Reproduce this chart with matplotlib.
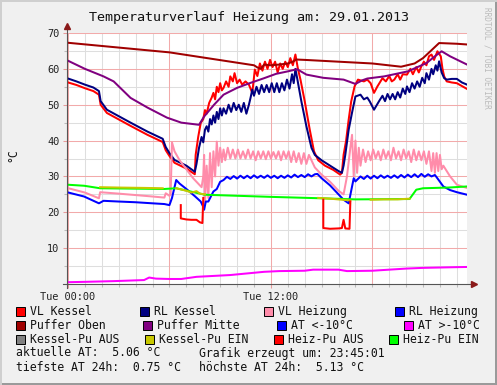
import numpy as np
import matplotlib
matplotlib.use('Agg')
import matplotlib.pyplot as plt
from matplotlib.patches import Rectangle

nan = np.nan

# time axis in hours after Tue 00:00, temperatures in °C

vl_kessel_t = [-0.06, 0.5, 1.0, 1.5, 1.83, 1.93, 2.3, 3.0, 3.7, 4.7, 5.6, 5.78, 6.0, 6.3, 7.0, 7.5,
               7.55, 7.7, 7.85, 8.0, 8.1, 8.2, 8.35, 8.5, 8.6, 8.7, 8.8, 8.9, 9.0, 9.1, 9.2, 9.35, 9.5,
               9.6, 9.75, 9.85, 10.0, 10.15, 10.3, 10.5, 10.7, 10.9, 11.05, 11.2, 11.35, 11.5, 11.65,
               11.8, 11.95, 12.1, 12.25, 12.4, 12.55, 12.7, 12.85, 13.0, 13.15, 13.3, 13.45, 13.6,
               13.75, 14.0, 14.3, 14.55, 14.8, 15.2, 15.7, 16.1, 16.2, 16.3, 16.45, 16.6, 16.75,
               16.95, 17.15, 17.5, 17.7, 17.9, 18.1, 18.3, 18.6, 18.8, 19.0, 19.15, 19.3, 19.5,
               19.65, 19.8, 20.05, 20.25, 20.4, 20.6, 20.75, 20.9, 21.05, 21.2, 21.35, 21.5, 21.65,
               21.85, 22.05, 22.15, 22.25, 22.4, 22.7, 23.0, 23.3, 23.6]
vl_kessel = [56.3, 55.5, 54.6, 53.8, 52.8, 50.0, 47.7, 45.9, 44.1, 41.6, 39.6, 37.3, 35.7, 33.8, 32.2, 30.6,
             36.0, 41.0, 44.9, 46.0, 48.5, 47.5, 50.5, 52.0, 53.3, 51.5, 55.0, 53.5, 56.0, 54.0, 54.7, 56.5, 55.0,
             57.9, 56.5, 58.8, 56.0, 57.0, 55.6, 56.5, 55.6, 53.3, 59.8, 58.0, 61.5, 59.5, 62.0,
             60.0, 62.5, 60.5, 62.0, 59.0, 61.5, 60.0, 62.0, 60.5, 63.0, 61.0, 64.0, 60.0,
             57.0, 51.0, 43.0, 37.0, 34.5, 33.0, 31.8, 30.5, 31.0, 36.0, 40.0, 45.8, 50.9,
             55.1, 57.0, 56.5, 57.0, 56.0, 53.3, 55.1, 57.4, 56.5, 58.0, 56.5, 57.0, 58.5,
             57.0, 58.5, 58.4, 60.0, 58.5, 60.5, 59.0, 60.7, 62.0, 61.0, 63.5, 64.0, 62.5,
             64.9, 63.5, 60.0, 57.9, 56.5, 56.2, 56.0, 55.2, 54.4]

rl_kessel_t = [-0.06, 0.5, 1.0, 1.5, 1.83, 1.93, 2.3, 3.0, 3.7, 4.7, 5.6, 5.78, 6.0, 6.3, 7.0, 7.5,
               7.6, 7.75, 7.9, 8.0, 8.1, 8.2, 8.3, 8.4, 8.5, 8.6, 8.7, 8.8, 8.9, 9.0, 9.1, 9.2, 9.35,
               9.5, 9.65, 9.8, 9.95, 10.1, 10.25, 10.4, 10.55, 10.7, 10.8, 10.9, 11.0, 11.15, 11.3,
               11.45, 11.6, 11.75, 11.9, 12.05, 12.2, 12.35, 12.5, 12.65, 12.8, 12.95, 13.1, 13.25,
               13.35, 13.45, 13.55, 13.8, 14.1, 14.4, 14.6, 15.0, 15.5, 16.0, 16.2, 16.3, 16.4, 16.6,
               16.8, 17.0, 17.3, 17.5, 17.7, 17.85, 18.1, 18.4, 18.6, 18.75, 18.9, 19.05, 19.2,
               19.35, 19.5, 19.65, 19.8, 19.95, 20.05, 20.2, 20.35, 20.5, 20.65, 20.8, 20.95, 21.1,
               21.2, 21.35, 21.5, 21.6, 21.75, 21.85, 21.95, 22.1, 22.25, 22.4, 22.7, 23.0, 23.3, 23.6]
rl_kessel = [57.4, 56.5, 55.6, 54.8, 53.8, 51.0, 48.6, 46.8, 45.0, 42.5, 40.5, 38.2, 36.5, 34.6, 33.0, 31.3,
             33.5, 38.0, 41.0, 39.5, 43.0, 44.0, 42.5, 46.0, 44.5, 47.0, 45.0, 48.0, 46.0, 49.0, 47.0, 49.0, 47.5,
             50.0, 48.0, 50.5, 48.5, 50.0, 48.0, 50.5, 47.5, 50.0, 52.0, 54.2, 52.5, 55.0, 53.0,
             55.5, 53.5, 55.5, 53.5, 56.0, 53.5, 56.0, 53.5, 56.0, 54.0, 57.0, 54.5, 58.5,
             56.0, 60.0, 57.5, 51.0, 44.0, 38.0, 36.0, 34.5, 33.0, 31.5, 31.0, 33.0, 36.0, 43.0,
             47.8, 52.3, 52.8, 51.5, 52.0, 50.9, 48.6, 51.0, 52.5, 51.0, 53.0, 51.5, 53.0,
             51.5, 53.5, 52.0, 54.5, 53.0, 55.1, 53.5, 56.0, 54.5, 56.5, 55.0, 57.5, 56.0,
             58.8, 57.0, 60.0, 58.5, 61.0, 59.5, 62.1, 59.0, 57.4, 57.0, 57.2, 57.2, 56.2, 55.6]

vl_heizung_t = [-0.06, 1.0, 1.83, 1.9, 3.0, 4.0, 5.0, 5.7, 5.78, 6.0, 6.07, 6.15, 6.3, 6.6, 7.0, 7.4,
                7.7, 7.9, 8.0, 8.05, 8.1, 8.2, 8.3, 8.4, 8.5, 8.6, 8.7, 8.8, 8.9, 9.0, 9.1, 9.2, 9.3,
                9.45, 9.6, 9.75, 9.9, 10.05, 10.2, 10.35, 10.5, 10.65, 10.8, 10.95, 11.1, 11.25, 11.4,
                11.55, 11.7, 11.85, 12.0, 12.15, 12.3, 12.45, 12.6, 12.75, 12.9, 13.05, 13.2, 13.35,
                13.5, 13.65, 13.8, 13.95, 14.1, 14.25, 14.35, 14.6, 15.0, 15.5, 16.0, 16.3, 16.5,
                16.7, 16.8, 16.9, 17.0, 17.1, 17.2, 17.3, 17.45, 17.6, 17.75, 17.9, 18.05, 18.2,
                18.35, 18.5, 18.65, 18.8, 18.95, 19.1, 19.25, 19.4, 19.55, 19.7, 19.85, 20.0, 20.15,
                20.3, 20.45, 20.6, 20.75, 20.9, 21.05, 21.2, 21.35, 21.5, 21.6, 21.7, 21.8, 21.9,
                22.0, 22.1, 22.2, 22.6, 23.0, 23.3, 23.6]
vl_heizung = [26.8, 25.5, 23.9, 25.6, 25.2, 24.8, 24.4, 24.1, 25.3, 24.6, 25.0, 39.5, 37.0, 34.5, 32.0, 29.5,
              28.0, 27.0, 30.0, 36.0, 22.0, 33.0, 24.0, 36.5, 27.0, 37.0, 30.0, 39.7, 33.0, 38.0, 34.0, 37.5, 34.5,
              38.0, 35.0, 37.5, 35.0, 37.5, 35.0, 37.0, 35.0, 37.5, 35.0, 37.0, 34.5, 37.0, 35.0,
              37.0, 34.8, 37.0, 35.0, 36.8, 35.0, 37.0, 34.5, 37.0, 35.0, 37.0, 34.0, 37.0,
              34.0, 36.5, 33.5, 36.5, 33.5, 36.0, 35.0, 32.5, 30.5, 28.5, 26.0, 25.0, 30.0,
              38.0, 41.6, 30.0, 40.0, 31.0, 38.0, 33.0, 37.5, 34.0, 37.0, 34.5, 37.5, 35.0,
              37.0, 34.5, 37.5, 35.0, 37.0, 34.5, 38.0, 35.0, 37.0, 34.5, 37.5, 35.0, 37.0,
              34.0, 37.5, 34.5, 37.0, 34.5, 37.0, 33.5, 37.0, 31.5, 36.5, 31.0, 36.5, 31.5,
              36.0, 32.0, 33.0, 30.0, 27.7, 27.2, 26.8]

rl_heizung_t = [-0.06, 0.95, 1.83, 2.1, 3.0, 4.0, 5.0, 5.7, 6.0, 6.15, 6.4, 6.6, 7.0, 7.5, 7.85, 8.0,
                8.05, 8.15, 8.3, 8.6, 8.8, 9.0, 9.2, 9.4, 9.6, 9.8, 10.0, 10.2, 10.4, 10.6, 10.8, 11.0,
                11.2, 11.4, 11.6, 11.8, 12.0, 12.2, 12.4, 12.6, 12.8, 13.0, 13.2, 13.4, 13.6, 13.8,
                14.0, 14.2, 14.4, 14.6, 14.75, 15.0, 15.5, 16.0, 16.3, 16.6, 16.75, 16.9, 17.0, 17.3,
                17.5, 17.7, 17.9, 18.1, 18.3, 18.5, 18.7, 18.9, 19.1, 19.3, 19.5, 19.7, 19.9, 20.1,
                20.3, 20.5, 20.7, 20.9, 21.1, 21.3, 21.5, 21.7, 21.8, 22.2, 22.6, 23.0, 23.6]
rl_heizung = [25.6, 24.4, 22.5, 23.2, 23.0, 22.8, 22.5, 22.3, 22.0, 24.0, 29.0, 28.0, 26.5, 24.5, 23.0, 21.5,
              20.7, 23.0, 23.0, 25.8, 26.5, 28.5, 29.0, 29.9, 29.3, 30.1, 29.4, 30.2, 29.5, 30.2, 29.5, 30.3,
              29.6, 30.2, 29.6, 30.3, 29.6, 30.2, 29.5, 30.2, 29.6, 30.3, 29.7, 30.5, 29.8, 30.4,
              29.8, 30.6, 30.0, 30.6, 30.7, 29.5, 27.5, 25.0, 23.5, 22.5, 26.0, 29.5, 28.6, 30.0,
              29.3, 30.2, 29.4, 30.2, 29.5, 30.3, 29.6, 30.2, 29.6, 30.3, 29.6, 30.4, 29.7, 30.5,
              29.8, 30.6, 29.8, 30.7, 29.9, 30.6, 30.0, 30.4, 29.8, 27.2, 26.2, 25.6, 24.9]

puffer_oben_t = [-0.06, 6.0, 11.0, 11.2, 11.4, 11.6, 12.0, 12.5, 13.0, 13.3, 13.5, 14.0, 16.0, 18.0,
                 19.7, 20.5, 21.0, 21.5, 21.95, 23.0, 23.6]
puffer_oben = [67.3, 64.6, 61.0, 60.4, 60.0, 61.2, 61.0, 61.2, 61.5, 62.0, 62.6, 62.5, 62.0, 61.5,
               60.6, 61.5, 63.0, 65.2, 67.2, 67.0, 66.8]

puffer_mitte_t = [-0.06, 1.0, 2.1, 2.7, 3.7, 4.7, 5.85, 6.7, 7.75, 8.05, 8.64, 9.2, 10.0, 10.8, 11.6,
                  12.3, 13.0, 13.55, 14.1, 15.1, 16.3, 17.0, 17.4, 17.7, 18.7, 20.1, 21.2, 21.7, 22.1,
                  22.6, 23.6]
puffer_mitte = [62.4, 60.0, 57.9, 56.5, 51.9, 49.2, 46.4, 45.0, 44.4, 46.7, 50.0, 52.8, 54.7, 56.1, 57.4,
                58.6, 59.3, 59.9, 58.4, 57.5, 57.0, 55.8, 56.8, 57.3, 57.9, 59.3, 61.6, 63.5, 64.9,
                63.5, 61.2]

at_plus_t = [-0.06, 1.0, 2.7, 4.5, 4.8, 5.2, 6.0, 6.7, 7.6, 9.6, 11.6, 12.5, 14.0, 14.5, 16.0, 16.5,
             18.0, 19.0, 20.0, 21.0, 22.0, 23.0, 23.6]
at_plus = [0.5, 0.6, 0.8, 1.1, 1.8, 1.5, 1.4, 1.4, 2.0, 2.5, 3.4, 3.6, 3.7, 4.0, 4.0, 3.6,
           3.7, 4.0, 4.3, 4.5, 4.6, 4.7, 4.75]

kessel_pu_ein_t = [1.9, 3.0, 4.5, 5.6, 5.61, 6.4, 7.0, 7.3, 7.6, 7.8, 8.1, 8.11,
                   14.8, 15.5, 16.2, 16.7, 16.71, 17.9, 18.7, 19.5, 20.2]
kessel_pu_ein = [27.0, 26.9, 26.8, 26.7, nan, 26.7, 26.0, 25.5, 25.9, 25.2, 25.0, nan,
                 24.0, 23.8, 23.5, 23.3, nan, 23.5, 23.6, 23.6, 23.8]

heiz_pu_aus_t = [6.67, 6.67, 7.0, 7.3, 7.6, 7.8, 7.95, 8.0, 8.01,
                 15.1, 15.1, 15.5, 16.0, 16.2, 16.3, 16.4, 16.65, 16.7]
heiz_pu_aus = [22.0, 18.3, 18.0, 17.9, 17.9, 17.2, 17.0, 24.0, nan,
               23.5, 15.6, 15.4, 15.5, 15.6, 17.9, 15.5, 15.4, 23.0]

heiz_pu_ein_t = [-0.06, 0.95, 1.9, 5.7, 6.4, 8.0, 8.05, 12.0, 15.0, 17.0, 20.2, 20.6, 21.0, 22.5, 23.6]
heiz_pu_ein = [27.7, 27.4, 26.7, 26.5, 26.7, 25.0, 24.9, 24.3, 23.9, 23.6, 23.7, 26.3, 26.7, 26.9, 27.2]

legend_labels = ['VL Kessel', 'RL Kessel', 'VL Heizung', 'RL Heizung',
                 'Puffer Oben', 'Puffer Mitte', 'AT <-10°C', 'AT >-10°C',
                 'Kessel-Pu AUS', 'Kessel-Pu EIN', 'Heiz-Pu AUS', 'Heiz-Pu EIN']
legend_colors = ['#FF0000', '#000080', '#FF8CAA', '#0000FF',
                 '#A00000', '#800080', '#0000FF', '#FF00FF',
                 '#808080', '#C8C800', '#FF0000', '#00FF00']

info_lines = [('aktuelle AT:  5.06 °C', 'Grafik erzeugt um: 23:45:01'),
              ('tiefste AT 24h:  0.75 °C', 'höchste AT 24h:  5.13 °C')]

W, H = 497, 385
MONO = 'DejaVu Sans Mono'
BG = '#F0F0F0'


def fx(x):
    return x / W


def fy(y):
    return 1 - y / H


fig = plt.figure(figsize=(W / 100, H / 100), dpi=100, facecolor=BG)

# 3d-ish frame like rrdtool
fig.add_artist(Rectangle((0, 0), 1, 2 / H, transform=fig.transFigure, color='#9A9A9A', lw=0))
fig.add_artist(Rectangle((1 - 2 / W, 0), 2 / W, 1, transform=fig.transFigure, color='#9A9A9A', lw=0))
fig.add_artist(Rectangle((0, 1 - 2 / H), 1, 2 / H, transform=fig.transFigure, color='#CFCFCF', lw=0))
fig.add_artist(Rectangle((0, 0), 2 / W, 1, transform=fig.transFigure, color='#CFCFCF', lw=0))

ax = fig.add_axes([fx(67), fy(284), 400 / W, 251 / H])
ax.set_facecolor('white')
ax.set_xlim(-0.06, 23.6)
ax.set_ylim(0, 70)
for s in ax.spines.values():
    s.set_visible(False)

# grid
for h in range(0, 24):
    if h % 6:
        ax.axvline(h, color='#DEDEDE', lw=0.75, zorder=0)
for v in range(5, 70, 10):
    ax.axhline(v, color='#DEDEDE', lw=0.75, zorder=0)
for h in range(0, 24, 6):
    ax.axvline(h, color='#F2AAAA', lw=0.75, zorder=0.5)
for v in range(10, 71, 10):
    ax.axhline(v, color='#F2AAAA', lw=0.75, zorder=0.5)

lw = 1.45
ax.plot(vl_kessel_t, vl_kessel, color='#FF0000', lw=lw)
ax.plot(rl_kessel_t, rl_kessel, color='#000080', lw=lw)
ax.plot(vl_heizung_t, vl_heizung, color='#FF8CAA', lw=lw)
ax.plot(rl_heizung_t, rl_heizung, color='#0000FF', lw=lw)
ax.plot(puffer_oben_t, puffer_oben, color='#A00000', lw=lw)
ax.plot(puffer_mitte_t, puffer_mitte, color='#800080', lw=lw)
ax.plot(at_plus_t, at_plus, color='#FF00FF', lw=lw)
ax.plot(heiz_pu_ein_t, heiz_pu_ein, color='#00FF00', lw=lw)
ax.plot(kessel_pu_ein_t, kessel_pu_ein, color='#C8C800', lw=lw)
ax.plot(heiz_pu_aus_t, heiz_pu_aus, color='#FF0000', lw=lw)

# axes with arrows
ax.plot([0, 0], [-4 / 251, 1 + 7 / 251], transform=ax.transAxes, color='#555555', lw=0.8, clip_on=False)
ax.plot([-4 / 400, 1 + 7 / 400], [0, 0], transform=ax.transAxes, color='#555555', lw=0.8, clip_on=False)
ax.plot([0], [1 + 7 / 251], transform=ax.transAxes, marker='^', ms=4, color='#8B1A1A', clip_on=False)
ax.plot([1 + 7 / 400], [0], transform=ax.transAxes, marker='>', ms=4, color='#8B1A1A', clip_on=False)

ax.set_xticks([0, 12], ['Tue 00:00', 'Tue 12:00'])
ax.set_xticks(range(1, 24), minor=True)
ax.set_yticks(range(10, 71, 10))
ax.set_yticks(range(5, 70, 10), minor=True)
ax.tick_params(which='major', length=3, width=0.75, color='#E89A9A', pad=2.5, labelsize=7.4)
ax.tick_params(which='minor', length=2, width=0.75, color='#BBBBBB')
for lab in ax.get_xticklabels() + ax.get_yticklabels():
    lab.set_family(MONO)
    lab.set_color('#222222')

fig.text(fx(249), fy(17), 'Temperaturverlauf Heizung am: 29.01.2013', family=MONO,
         fontsize=9.6, ha='center', va='center', color='#111111')
fig.text(fx(12.5), fy(155), '°C', family=MONO, fontsize=8.3, rotation=90,
         ha='center', va='center', color='#111111')
fig.text(fx(487), fy(7), 'RRDTOOL / TOBI OETIKER', family=MONO, fontsize=5.6,
         rotation=270, ha='center', va='top', color='#BBBBBB')

# legend
box_x = [[16, 140, 264, 395], [16, 143, 277, 404], [16, 145, 274, 389]]
row_y = [311.5, 325.5, 339.5]
for i, (lab, col) in enumerate(zip(legend_labels, legend_colors)):
    r, c = divmod(i, 4)
    bx = box_x[r][c]
    by = row_y[r]
    fig.add_artist(Rectangle((fx(bx), fy(by + 4.5)), 9 / W, 9 / H, transform=fig.transFigure,
                             facecolor=col, edgecolor='black', lw=0.7))
    fig.text(fx(bx + 14), fy(by), lab, family=MONO, fontsize=8.3, va='center', ha='left',
             color='#111111')

for k, (left, right) in enumerate(info_lines):
    y = 353 + 14.5 * k
    fig.text(fx(16), fy(y), left, family=MONO, fontsize=8.3, va='center', color='#111111')
    fig.text(fx(199), fy(y), right, family=MONO, fontsize=8.3, va='center', color='#111111')

fig.savefig('out.png', dpi=100, facecolor=BG)
